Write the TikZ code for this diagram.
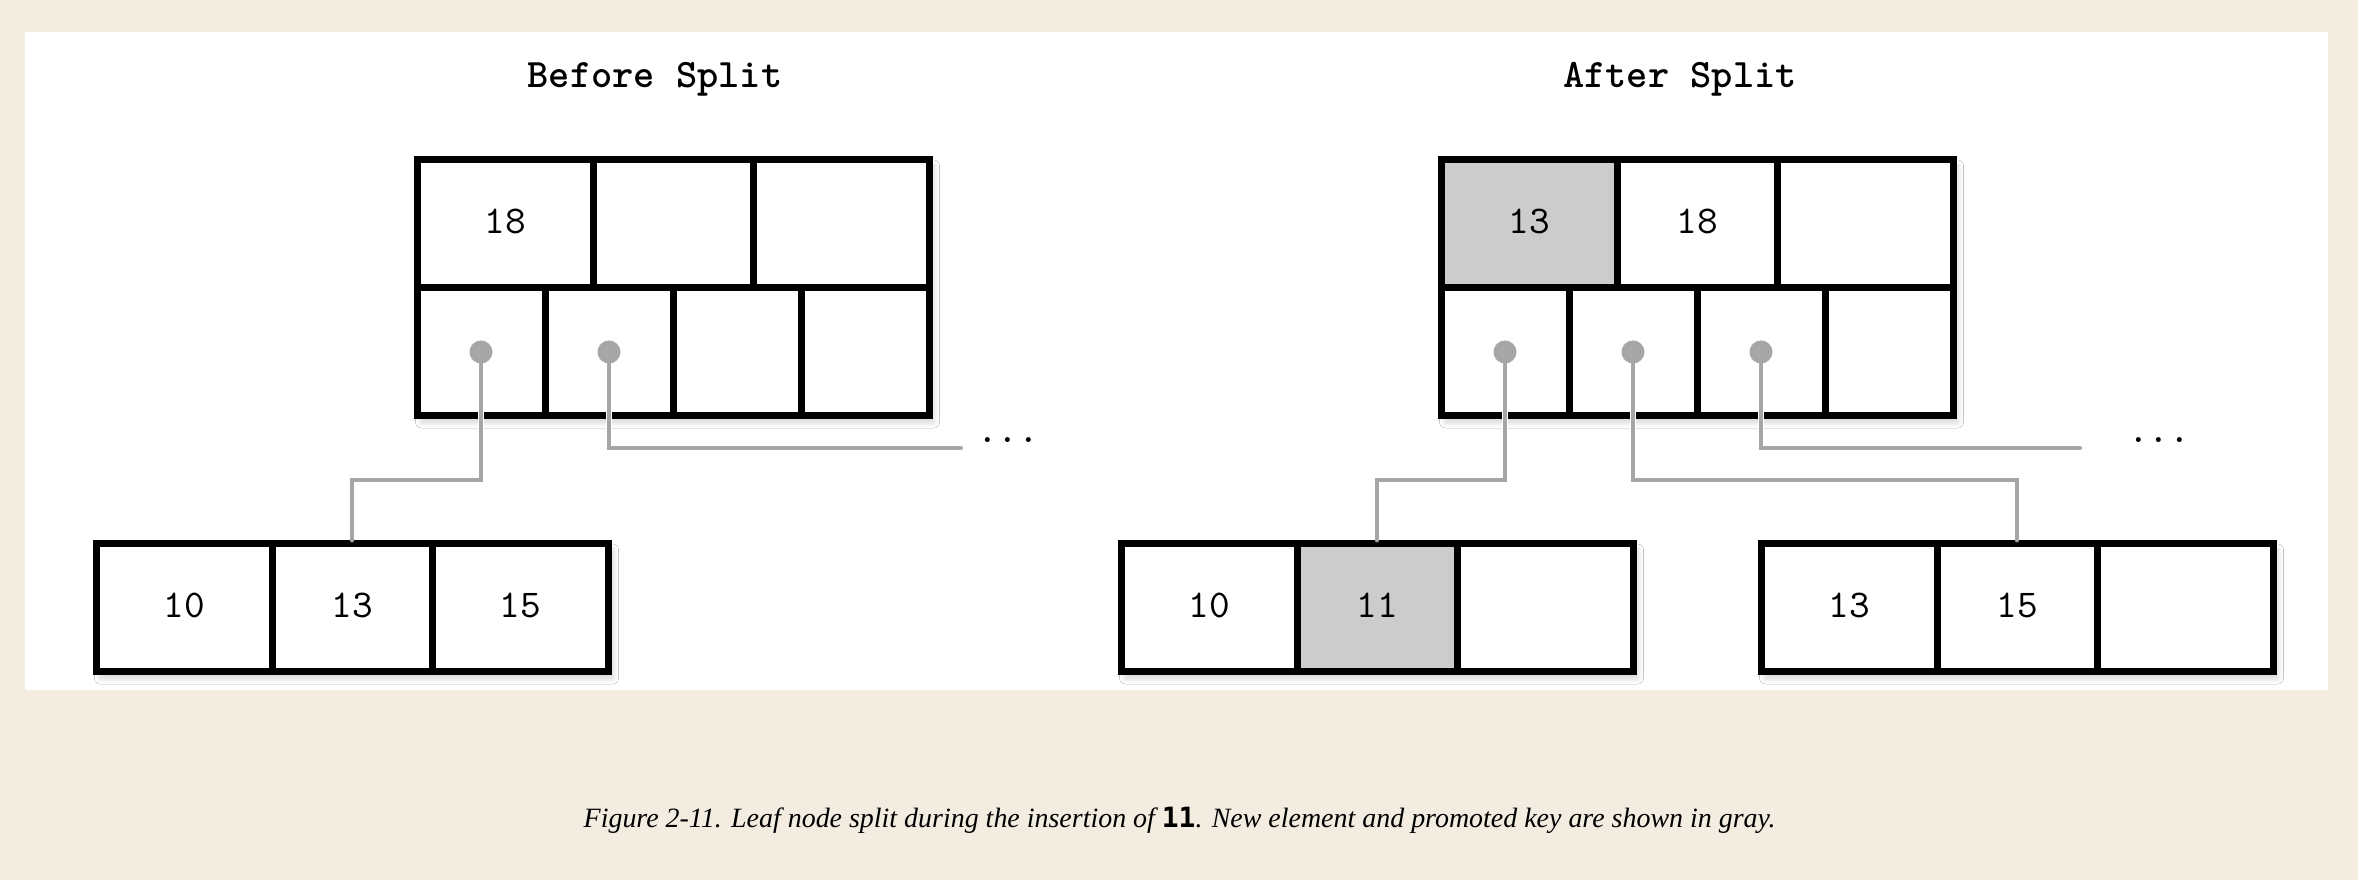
\documentclass[tikz,border=0pt]{standalone}
\usepackage{fontspec}
\setmainfont{Liberation Serif}
\newfontfamily\celltt{lmmono10-regular.otf}
\newfontfamily\titlett{lmmonolt10-bold.otf}
\newfontfamily\codett{DejaVu Sans Mono}
\usetikzlibrary{shadows.blur}
\definecolor{pagebg}{RGB}{243,236,224}
\definecolor{keygray}{RGB}{204,204,204}
\definecolor{ptrgray}{RGB}{166,166,166}
\begin{document}
\begin{tikzpicture}[x=0.1mm,y=-0.1mm,
  cell/.style={draw=black, line width=0.7mm, fill=white, minimum height=12.8mm,
    inner sep=0pt, text depth=0.5mm, font=\celltt\fontsize{11.2pt}{13pt}\selectfont},
  wide/.style={cell, minimum width=17.6mm},
  mid/.style={cell, minimum width=16mm},
  narrow/.style={cell, minimum width=12.8mm},
  hl/.style={fill=keygray},
  blockshadow/.style={fill=white, blur shadow={shadow xshift=0.45mm, shadow yshift=-0.6mm,
    shadow blur radius=0.6mm, shadow blur extra rounding=0mm, shadow blur steps=10, shadow opacity=18}},
  ptr/.style={draw=ptrgray, line width=0.4mm, line cap=round, line join=miter,
    preaction={draw=white, line width=0.65mm}},
  dotmark/.style={fill=ptrgray},
  ttl/.style={anchor=base, font=\titlett\fontsize{11.5pt}{13pt}\selectfont},
  more/.style={anchor=base, font=\celltt\fontsize{11.2pt}{13pt}\selectfont},
]
% background and panel
\fill[pagebg] (0,0) rectangle (2358,880);
\fill[white] (25,32) rectangle (2328,690);

% shadows of blocks
\path[blockshadow] (417,160) rectangle (929,416);
\path[blockshadow] (96,544) rectangle (608,672);
\path[blockshadow] (1441,160) rectangle (1953,416);
\path[blockshadow] (1121,544) rectangle (1633,672);
\path[blockshadow] (1761,544) rectangle (2273,672);

% titles
\node[ttl] (t1) at (655,88) {Before Split};
\node[ttl] (t2) at (1680,88) {After Split};

% ---- Before split: internal node
\node[wide] (ak1) at (505,224) {18};
\node[mid]  (ak2) at (673,224) {};
\node[wide] (ak3) at (841,224) {};
\node[narrow] (ap1) at (481,352) {};
\node[narrow] (ap2) at (609,352) {};
\node[narrow] (ap3) at (737,352) {};
\node[narrow] (ap4) at (865,352) {};
% leaf
\node[wide] (al1) at (184,608) {10};
\node[mid]  (al2) at (352,608) {13};
\node[wide] (al3) at (520,608) {15};

% ---- After split: internal node
\node[wide,hl] (bk1) at (1529,224) {13};
\node[mid]  (bk2) at (1697,224) {18};
\node[wide] (bk3) at (1865,224) {};
\node[narrow] (bp1) at (1505,352) {};
\node[narrow] (bp2) at (1633,352) {};
\node[narrow] (bp3) at (1761,352) {};
\node[narrow] (bp4) at (1889,352) {};
% leaves
\node[wide] (bl1) at (1209,608) {10};
\node[mid,hl] (bl2) at (1377,608) {11};
\node[wide] (bl3) at (1545,608) {};
\node[wide] (cl1) at (1849,608) {13};
\node[mid]  (cl2) at (2017,608) {15};
\node[wide] (cl3) at (2185,608) {};

% continuation marks
\node[more] (m1) at (1008,443) {...};
\node[more] (m2) at (2159,443) {...};
\coordinate (e1) at (961,448);
\coordinate (e2) at (2080,448);

% pointers
\draw[ptr] (ap1.center) -- ++(0,128) -| (al2.north);
\draw[ptr] (ap2.center) |- (e1);
\draw[ptr] (bp1.center) -- ++(0,128) -| (bl2.north);
\draw[ptr] (bp2.center) -- ++(0,128) -| (cl2.north);
\draw[ptr] (bp3.center) |- (e2);
\foreach \p in {ap1,ap2,bp1,bp2,bp3}
  \fill[dotmark] (\p.center) circle[radius=1.15mm];

% caption
\node[anchor=base west, inner sep=0pt, font=\fontsize{7.95pt}{9pt}\selectfont\itshape] (cap) at (583,827)
  {Figure 2-11. Leaf node split during the insertion of {\codett\upshape\bfseries 11}. New element and promoted key are shown in gray.};
\end{tikzpicture}
\end{document}
